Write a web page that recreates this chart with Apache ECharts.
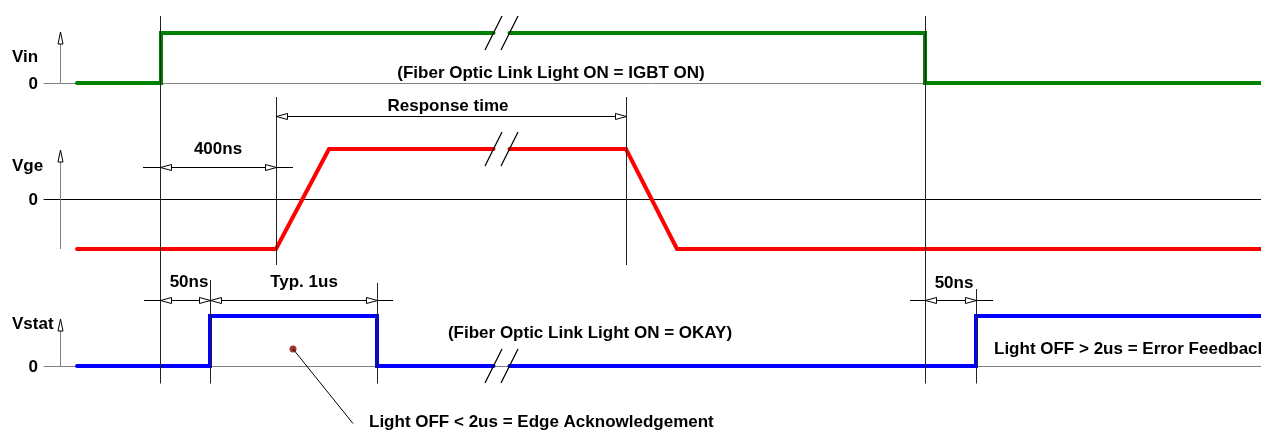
<!DOCTYPE html>
<html>
<head>
<meta charset="utf-8">
<script src="https://cdn.jsdelivr.net/npm/echarts@6/dist/echarts.min.js"></script>
<style>
  html, body { margin: 0; padding: 0; background: #fff; }
  #chart { width: 1261px; height: 431px; }
</style>
</head>
<body>
<div id="chart"></div>
<script>
// schematic time: t = 0 at the Vin rising edge, the // break sits between the two breakTimes
const traceNames = ['Vin', 'Vge', 'Vstat']
const traceColors = ['#008000', '#ff0000', '#0000ff']
const zeroLineColors = ['#808080', '#000000', '#808080']

const vinTime = [-83, 1, 1, 765, 765, 1101]
const vinLevel = [0, 0, 1, 1, 0, 0]
const vgeTime = [-83, 116, 169, 466, 517, 1101]
const vgeLevel = [-1, -1, 1, 1, -1, -1]
const vstatTime = [-83, 50, 50, 217, 217, 816, 816, 1101]
const vstatLevel = [0, 0, 1, 1, 0, 0, 1, 1]

const breakTimes = [333.5, 349.5]
const breakLevels = [1, 1, 0]

// vertical guides: time, top [grid, level], bottom [grid, level]
const guideTimes = [0, 765, 116, 466, 50, 217, 816]
const guideTop = [[0, 1.34], [0, 1.34], [1, 2.04], [1, 2.04], [2, 1.72], [2, 1.66], [2, 1.54]]
const guideBottom = [[2, -0.35], [2, -0.35], [1, -1.32], [1, -1.32], [2, -0.35], [2, -0.35], [2, -0.35]]

// dimension lines: grid, level, from, to, arrow tips
const dimGrid = [1, 1, 2, 2]
const dimLevel = [0.64, 1.66, 1.33, 1.33]
const dimFrom = [-17, 116, -16, 750]
const dimTo = [133, 466, 233, 833]
const dimTips = [
  [[0, 'l'], [116, 'r']],
  [[116, 'l'], [466, 'r']],
  [[0, 'l'], [50, 'r'], [50, 'l'], [217, 'r']],
  [[765, 'l'], [816, 'r']]
]

// axis arrows (at t = -100): grid, top level, bottom level
const arrowTop = [1.02, 0.98, 0.94]
const arrowBottom = [0, -1, 0]

// labels: grid, time, level, text, align
const labels = [
  [0, -148, 0.52, 'Vin', 'left'],
  [0, -122, -0.02, '0', 'right'],
  [0, 391, 0.2, '(Fiber Optic Link Light ON = IGBT ON)', 'center'],
  [1, 288, 1.86, 'Response time', 'center'],
  [1, 58, 1.0, '400ns', 'center'],
  [1, -148, 0.66, 'Vge', 'left'],
  [1, -122, -0.02, '0', 'right'],
  [2, 29, 1.68, '50ns', 'center'],
  [2, 144, 1.68, 'Typ. 1us', 'center'],
  [2, 794, 1.66, '50ns', 'center'],
  [2, -148, 0.84, 'Vstat', 'left'],
  [2, -122, -0.02, '0', 'right'],
  [2, 430, 0.66, '(Fiber Optic Link Light ON = OKAY)', 'center'],
  [2, 834, 0.34, 'Light OFF > 2us = Error Feedback', 'left'],
  [2, 209, -1.12, 'Light OFF < 2us = Edge Acknowledgement', 'left']
]

const dotTime = [133]
const dotLevel = [0.34]
const leaderEnd = [193, -1.15]

const zeroPixels = [83, 199, 366]
const levelMin = [-1.5, -1.5, -1.2]
const levelMax = [1.5, 1.5, 1.5]
const FONT = '"Liberation Sans", Arial, sans-serif'

const chart = echarts.init(document.getElementById('chart'), null, { renderer: 'canvas' })

const traceData = (times, levels) => {
  const pts = []
  for (let i = 0; i < times.length; i++) {
    if (i > 0 && times[i - 1] < breakTimes[0] && times[i] > breakTimes[1] && levels[i - 1] === levels[i]) {
      pts.push([breakTimes[0], levels[i]], [(breakTimes[0] + breakTimes[1]) / 2, '-'], [breakTimes[1], levels[i]])
    }
    pts.push([times[i], levels[i]])
  }
  return pts
}

const traceSets = [[vinTime, vinLevel], [vgeTime, vgeLevel], [vstatTime, vstatLevel]]

const option = {
  animation: false,
  grid: zeroPixels.map((z, i) => ({
    left: 44, right: 0, top: z - levelMax[i] * 50, height: (levelMax[i] - levelMin[i]) * 50
  })),
  xAxis: traceNames.map((n, i) => ({
    type: 'value', gridIndex: i, min: -116, max: 1101,
    axisLine: { show: true, onZero: true, lineStyle: { color: zeroLineColors[i], width: 1 } },
    axisTick: { show: false }, axisLabel: { show: false }, splitLine: { show: false }
  })),
  yAxis: traceNames.map((n, i) => ({
    type: 'value', gridIndex: i, min: levelMin[i], max: levelMax[i], show: false, splitLine: { show: false }
  })),
  series: [
    ...traceNames.map((name, i) => ({
      type: 'line', name, xAxisIndex: i, yAxisIndex: i,
      data: traceData(traceSets[i][0], traceSets[i][1]),
      symbol: 'none', connectNulls: false, silent: true,
      lineStyle: { color: traceColors[i], width: 4, cap: 'round', join: 'miter' }
    })),
    {
      type: 'scatter', xAxisIndex: 2, yAxisIndex: 2,
      data: dotTime.map((t, i) => [t, dotLevel[i]]),
      symbolSize: 7, itemStyle: { color: '#8b0000' }, silent: true, z: 5
    }
  ]
}

chart.setOption(option)

// annotations placed through the grids' own scales
const P = (g, t, lv) => chart.convertToPixel({ gridIndex: g }, [t, lv])
const crisp = v => Math.round(v) + 0.5
const els = []
const line = (x1, y1, x2, y2, stroke, w) => els.push({
  type: 'line', z: 100, silent: true,
  shape: { x1, y1, x2, y2 }, style: { stroke, lineWidth: w || 1 }
})
const tri = points => els.push({
  type: 'polygon', z: 101, silent: true,
  shape: { points }, style: { fill: '#fff', stroke: '#000', lineWidth: 1 }
})

guideTimes.forEach((t, i) => {
  const a = P(guideTop[i][0], t, guideTop[i][1])
  const b = P(guideBottom[i][0], t, guideBottom[i][1])
  line(crisp(a[0]), a[1], crisp(a[0]), b[1], '#222')
})

dimGrid.forEach((g, i) => {
  const a = P(g, dimFrom[i], dimLevel[i])
  const b = P(g, dimTo[i], dimLevel[i])
  const y = crisp(a[1])
  line(a[0], y, b[0], y, '#000')
  dimTips[i].forEach(([t, dir]) => {
    const x = crisp(P(g, t, dimLevel[i])[0])
    const s = dir === 'l' ? 11 : -11
    tri([[x, y], [x + s, y - 3], [x + s, y + 3]])
  })
})

traceNames.forEach((n, g) => {
  const a = P(g, -100, arrowTop[g])
  const b = P(g, -100, arrowBottom[g])
  const x = crisp(a[0])
  line(x, a[1] + 10, x, b[1], '#808080')
  tri([[x, a[1]], [x - 2.5, a[1] + 12], [x + 2.5, a[1] + 12]])
  breakTimes.forEach(bt => {
    const p = P(g, bt - 8.5, breakLevels[g] - 0.34)
    const q = P(g, bt + 8.5, breakLevels[g] + 0.34)
    line(p[0], p[1], q[0], q[1], '#000', 1.3)
  })
})

const d0 = P(2, dotTime[0], dotLevel[0])
const d1 = P(2, leaderEnd[0], leaderEnd[1])
line(d0[0], d0[1], d1[0], d1[1], '#000')

labels.forEach(([g, t, lv, text, align]) => {
  const p = P(g, t, lv)
  els.push({
    type: 'text', z: 110, silent: true, x: p[0], y: p[1],
    style: {
      text, fill: '#000', fontSize: 17, fontWeight: 'bold', fontFamily: FONT,
      align, verticalAlign: 'middle'
    }
  })
})

chart.setOption({ graphic: els })
</script>
</body>
</html>
